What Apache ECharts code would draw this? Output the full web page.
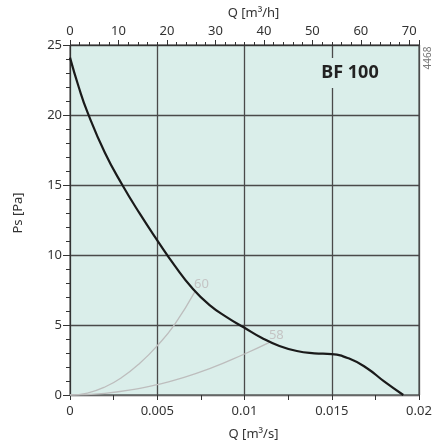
<!DOCTYPE html>
<html><head><meta charset="utf-8">
<script src="https://cdn.jsdelivr.net/npm/echarts@6/dist/echarts.min.js"></script>
<style>html,body{margin:0;padding:0;background:#fff}#c{width:434px;height:444px}</style>
</head><body><div id="c"></div>
<script>
// Fan curve BF 100: Q [m3/s] vs Ps [Pa]
const fanQ = [0, 0.0005, 0.001, 0.002, 0.003, 0.004, 0.005, 0.006, 0.007, 0.008, 0.009, 0.010, 0.011, 0.012, 0.013, 0.014, 0.015, 0.016, 0.017, 0.018, 0.0191];
const fanPs = [24.1, 22.0, 20.2, 17.3, 15.0, 12.95, 11.05, 9.24, 7.64, 6.42, 5.55, 4.8, 4.07, 3.5, 3.14, 2.98, 2.92, 2.6, 1.93, 0.97, 0];
// System curve "60"
const sys60Q = [0, 0.001, 0.002, 0.003, 0.004, 0.005, 0.006, 0.00716];
const sys60Ps = [0, 0.14, 0.57, 1.28, 2.27, 3.52, 5.05, 7.38];
// System curve "58"
const sys58Q = [0, 0.002, 0.004, 0.005, 0.006, 0.008, 0.01, 0.0114];
const sys58Ps = [0, 0.12, 0.47, 0.74, 1.06, 1.88, 2.93, 3.74];
const xTicksS = [0, 0.005, 0.01, 0.015, 0.02];
const xTicksH = [0, 10, 20, 30, 40, 50, 60, 70];
const yTicks = [0, 5, 10, 15, 20, 25];
const curveLabels = ['60', '58'];
const modelName = 'BF 100';
const drawingNo = '4468';

const zip = (a, b) => a.map((v, i) => [v, b[i]]);
const FONT = 'Noto Sans';
const chart = echarts.init(document.getElementById('c'), null, {renderer: 'canvas'});
chart.setOption({
  animation: false,
  textStyle: {fontFamily: FONT},
  grid: {left: 70, right: 15, top: 45, bottom: 49, containLabel: false, outerBoundsMode: 'none',
    show: true, backgroundColor: '#daeeea', borderColor: '#333', borderWidth: 1},
  xAxis: [{
    type: 'value', position: 'bottom', min: xTicksS[0], max: xTicksS[xTicksS.length - 1], interval: 0.005,
    name: 'Q [m³/s]', nameLocation: 'middle', nameGap: 33,
    nameTextStyle: {fontSize: 13, color: '#333', fontFamily: FONT, padding: [0, 0, 0, 18]},
    axisLine: {show: true, lineStyle: {color: '#666', width: 1}},
    axisTick: {show: true, length: 5, lineStyle: {color: '#333'}},
    minorTick: {show: true, splitNumber: 2, length: 5, lineStyle: {color: '#333'}},
    axisLabel: {fontSize: 13, color: '#333', margin: 10, fontFamily: FONT, formatter: v => String(+v.toFixed(4))},
    splitLine: {show: true, lineStyle: {color: '#4a4a4a', width: 1.3}}
  }, {
    type: 'value', position: 'top', min: 0, max: 72, interval: 10,
    name: 'Q [m³/h]', nameLocation: 'middle', nameGap: 24,
    nameTextStyle: {fontSize: 13, color: '#333', fontFamily: FONT, padding: [0, 0, 0, 18]},
    axisLine: {show: true, lineStyle: {color: '#333', width: 1}},
    axisTick: {show: true, length: 5, lineStyle: {color: '#333'}},
    minorTick: {show: true, splitNumber: 5, length: 3, lineStyle: {color: '#333'}},
    axisLabel: {fontSize: 13, color: '#333', margin: 7, fontFamily: FONT, showMaxLabel: false,
      formatter: v => xTicksH.indexOf(v) >= 0 ? String(v) : ''},
    splitLine: {show: false}
  }],
  yAxis: {
    type: 'value', min: yTicks[0], max: yTicks[yTicks.length - 1], interval: 5,
    name: 'Ps [Pa]', nameLocation: 'middle', nameGap: 45,
    nameTextStyle: {fontSize: 13, color: '#333', fontFamily: FONT, padding: [0, 0, 0, 14]},
    axisLine: {show: true, lineStyle: {color: '#333', width: 1}},
    axisTick: {show: true, length: 7, lineStyle: {color: '#333'}},
    minorTick: {show: true, splitNumber: 5, length: 4, lineStyle: {color: '#333'}},
    axisLabel: {fontSize: 13, color: '#333', margin: 8, fontFamily: FONT},
    splitLine: {show: true, lineStyle: {color: '#4a4a4a', width: 1.3}}
  },
  series: [{
    type: 'line', data: zip(sys60Q, sys60Ps), smooth: true, symbol: 'none',
    lineStyle: {color: '#bdbdbd', width: 1.3}, z: 3,
    endLabel: {show: true, formatter: curveLabels[0], color: '#c4c4c4', fontSize: 13, fontFamily: FONT, offset: [-3, -7], distance: 2}
  }, {
    type: 'line', data: zip(sys58Q, sys58Ps), smooth: true, symbol: 'none',
    lineStyle: {color: '#bdbdbd', width: 1.3}, z: 3,
    endLabel: {show: true, formatter: curveLabels[1], color: '#c4c4c4', fontSize: 13, fontFamily: FONT, offset: [-2, -7], distance: 2}
  }, {
    type: 'line', data: zip(fanQ, fanPs), smooth: 0.5, symbol: 'none',
    lineStyle: {color: '#1a1a1a', width: 2.2}, z: 5
  }],
  graphic: [{
    type: 'rect', z: 100, shape: {x: 316, y: 58, width: 68, height: 30}, style: {fill: '#daeeea'}
  }, {
    type: 'text', z: 101, x: 350, y: 73,
    style: {text: modelName, font: 'bold 18px "Noto Sans"', fill: '#222', textAlign: 'center', textVerticalAlign: 'middle'}
  }, {
    type: 'text', z: 101, x: 428, y: 58, rotation: Math.PI / 2,
    style: {text: drawingNo, font: '10px "Noto Sans"', fill: '#777', textAlign: 'center', textVerticalAlign: 'middle'}
  }]
});
</script></body></html>
